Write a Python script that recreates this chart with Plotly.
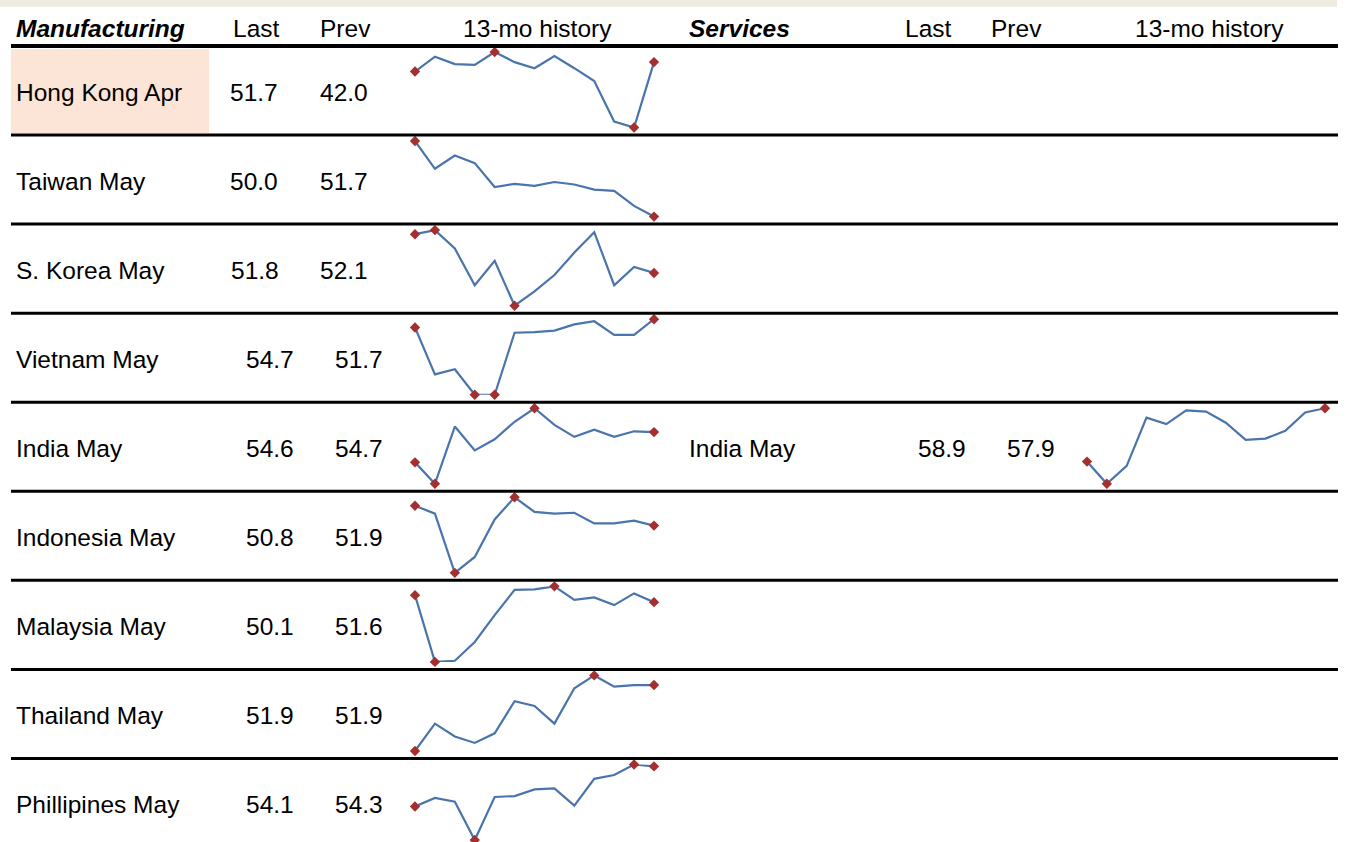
import plotly.graph_objects as go

# ---------------- data ----------------
mfg_names = ["Hong Kong Apr", "Taiwan May", "S. Korea May", "Vietnam May", "India May",
             "Indonesia May", "Malaysia May", "Thailand May", "Phillipines May"]
mfg_last = [51.7, 50.0, 51.8, 54.7, 54.6, 50.8, 50.1, 51.9, 54.1]
mfg_prev = [42.0, 51.7, 52.1, 51.7, 54.7, 51.9, 51.6, 51.9, 54.3]

hist_hong_kong = [50.3, 52.5, 51.4, 51.3, 53.2, 51.7, 50.8, 52.6, 50.8, 48.9, 42.9, 42.0, 51.7]
hist_taiwan = [62.0, 57.6, 59.7, 58.5, 54.7, 55.2, 54.9, 55.5, 55.1, 54.3, 54.1, 51.7, 50.0]
hist_korea = [53.7, 53.9, 53.0, 51.2, 52.4, 50.2, 50.9, 51.7, 52.8, 53.8, 51.2, 52.1, 51.8]
hist_vietnam = [53.1, 44.1, 45.1, 40.2, 40.2, 52.1, 52.2, 52.5, 53.7, 54.3, 51.7, 51.7, 54.7]
hist_india = [50.8, 48.1, 55.3, 52.3, 53.7, 55.9, 57.6, 55.5, 54.0, 54.9, 54.0, 54.7, 54.6]
hist_indonesia = [55.3, 53.5, 40.1, 43.7, 52.2, 57.2, 53.9, 53.5, 53.7, 51.3, 51.3, 51.9, 50.8]
hist_malaysia = [51.3, 39.9, 40.1, 43.3, 47.9, 52.2, 52.3, 52.8, 50.5, 50.9, 49.6, 51.6, 50.1]
hist_thailand = [47.8, 49.5, 48.7, 48.3, 48.9, 50.9, 50.6, 49.5, 51.7, 52.5, 51.8, 51.9, 51.9]
hist_philippines = [49.9, 50.8, 50.4, 46.4, 50.9, 51.0, 51.7, 51.8, 50.0, 52.8, 53.2, 54.3, 54.1]
mfg_hist = [hist_hong_kong, hist_taiwan, hist_korea, hist_vietnam, hist_india,
            hist_indonesia, hist_malaysia, hist_thailand, hist_philippines]

svc_names = ["India May"]
svc_last = [58.9]
svc_prev = [57.9]
hist_india_services = [46.4, 41.2, 45.4, 56.7, 55.2, 58.4, 58.1, 55.5, 51.5, 51.8, 53.6, 57.9, 58.9]
svc_hist = [hist_india_services]

header_left = ["Manufacturing", "Last", "Prev", "13-mo history"]
header_right = ["Services", "Last", "Prev", "13-mo history"]

# ---------------- layout constants ----------------
W, H = 1357, 842
FONT = "Liberation Sans Narrow, Arial Narrow, Liberation Sans, Arial, sans-serif"
FS = 24.5
LINE_BLUE = "#4A74AC"
MARK_RED = "#A3302E"
HEADER_LINE_Y = 46
ROW_H = 89.06
TABLE_X0, TABLE_X1 = 11, 1338


def px(x):
    return x / W


def py(y):
    return 1 - y / H


def row_top(r):
    return HEADER_LINE_Y + ROW_H * r


fig = go.Figure()
shapes = []
annotations = []

# top beige band
shapes.append(dict(type="rect", xref="paper", yref="paper", x0=px(0), x1=px(1337),
                   y0=py(7), y1=py(0), fillcolor="#EEECE1", line_width=0, layer="below"))
# highlighted first label cell
shapes.append(dict(type="rect", xref="paper", yref="paper", x0=px(11), x1=px(209),
                   y0=py(row_top(1) - 2), y1=py(row_top(0) + 3), fillcolor="#FCE4D6",
                   line_width=0, layer="below"))
# header line
shapes.append(dict(type="line", xref="paper", yref="paper", x0=px(TABLE_X0), x1=px(TABLE_X1),
                   y0=py(HEADER_LINE_Y), y1=py(HEADER_LINE_Y), line=dict(color="#000000", width=4)))
for r in range(1, len(mfg_names)):
    y = row_top(r)
    shapes.append(dict(type="line", xref="paper", yref="paper", x0=px(TABLE_X0), x1=px(TABLE_X1),
                       y0=py(y), y1=py(y), line=dict(color="#000000", width=3)))


def text(x, y, s, anchor="left", bold_italic=False, size=FS):
    if bold_italic:
        s = "<b><i>" + s + "</i></b>"
    annotations.append(dict(x=px(x), y=py(y), xref="paper", yref="paper", text=s,
                            showarrow=False, xanchor=anchor, yanchor="middle",
                            font=dict(family=FONT, size=size, color="#000000")))


# headers
HY = 28
text(14, HY, header_left[0], "left", True)
text(256, HY, header_left[1], "center")
text(345, HY, header_left[2], "center")
text(537, HY, header_left[3], "center")
text(687, HY, header_right[0], "left", True)
text(928, HY, header_right[1], "center")
text(1017, HY, header_right[2], "center")
text(1209, HY, header_right[3], "center")

# number right edges (first three rows sit further left in the original table)
num_right_last = [280, 280, 281, 296, 296, 296, 296, 296, 296]
num_right_prev = [370, 370, 370, 385, 385, 385, 385, 385, 385]

axis_count = [0]


def sparkline(values, x0, x1, r):
    axis_count[0] += 1
    k = axis_count[0]
    xa = "x" if k == 1 else "x%d" % k
    ya = "y" if k == 1 else "y%d" % k
    top = row_top(r) + 6
    bot = row_top(r + 1) - 7.5
    vmin, vmax = min(values), max(values)
    idx = list(range(len(values)))
    fig.add_trace(go.Scatter(x=idx, y=values, mode="lines", xaxis=xa, yaxis=ya,
                             line=dict(color=LINE_BLUE, width=2.2), hoverinfo="skip",
                             cliponaxis=False, showlegend=False))
    mk = [i for i, v in enumerate(values)
          if i == 0 or i == len(values) - 1 or v == vmin or v == vmax]
    fig.add_trace(go.Scatter(x=mk, y=[values[i] for i in mk], mode="markers", xaxis=xa, yaxis=ya,
                             marker=dict(symbol="diamond", size=8, color=MARK_RED,
                                         line=dict(width=0)),
                             cliponaxis=False, hoverinfo="skip", showlegend=False))
    axis_style = dict(visible=False, showgrid=False, zeroline=False, fixedrange=True)
    fig.update_layout(**{
        ("xaxis" if k == 1 else "xaxis%d" % k): dict(domain=[px(x0), px(x1)],
                                                    range=[0, len(values) - 1],
                                                    anchor=ya, **axis_style),
        ("yaxis" if k == 1 else "yaxis%d" % k): dict(domain=[py(bot), py(top)],
                                                    range=[vmin, vmax],
                                                    anchor=xa, **axis_style),
    })


for r, name in enumerate(mfg_names):
    cy = (row_top(r) + row_top(r + 1)) / 2 + 1.5
    text(14, cy, name, "left")
    text(num_right_last[r], cy, "%.1f" % mfg_last[r], "right")
    text(num_right_prev[r], cy, "%.1f" % mfg_prev[r], "right")
    sparkline(mfg_hist[r], 415, 654, r)

for j, name in enumerate(svc_names):
    r = mfg_names.index(name)
    cy = (row_top(r) + row_top(r + 1)) / 2 + 1.5
    text(687, cy, name, "left")
    text(968, cy, "%.1f" % svc_last[j], "right")
    text(1057, cy, "%.1f" % svc_prev[j], "right")
    sparkline(svc_hist[j], 1087, 1325, r)

fig.update_layout(width=W, height=H, margin=dict(l=0, r=0, t=0, b=0),
                  paper_bgcolor="#FFFFFF", plot_bgcolor="rgba(0,0,0,0)",
                  shapes=shapes, annotations=annotations, showlegend=False)

fig.write_html("out.html", config={"displayModeBar": False, "staticPlot": True},
               post_script="document.body.style.margin='0px';")
